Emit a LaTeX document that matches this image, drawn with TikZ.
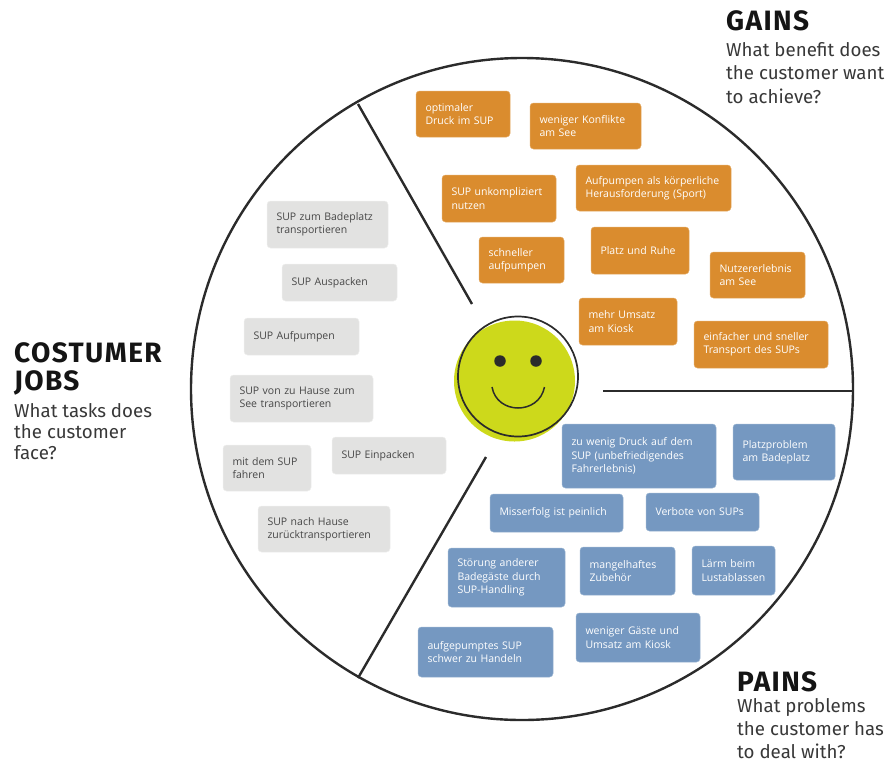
\documentclass[tikz,border=0pt]{standalone}
\usepackage{fontspec}
\setmainfont{Open Sans}
\newfontfamily\headfont{Fira Sans}
\newfontfamily\headboldfont[BoldFont={Fira Sans Bold},LetterSpace=5]{Fira Sans}
\definecolor{gainc}{HTML}{DA8C2E}
\definecolor{painc}{HTML}{7598C1}
\definecolor{jobc}{HTML}{E2E2E1}
\definecolor{smilec}{HTML}{CDD91B}
\definecolor{inkc}{HTML}{2B2B2B}
\tikzset{
  card/.style={rounded corners=3.5pt,inner xsep=0pt,inner ysep=0pt,align=left,font=\fontsize{10.5}{13.4}\selectfont},
  gaincard/.style={card,fill=gainc,draw=gainc!75!white,line width=.5pt,text=white},
  paincard/.style={card,fill=painc,draw=painc!75!white,line width=.5pt,text=white},
  jobcard/.style={card,fill=jobc,draw=jobc!60!white,line width=.5pt,text=black!72},
  divider/.style={draw=inkc,line width=2.4pt},
  headline/.style={anchor=west,inner sep=0pt,align=left,text=black!92,font=\headboldfont\bfseries\fontsize{28}{27.5}\selectfont},
  subline/.style={anchor=north west,inner sep=0pt,align=left,text=black!78,font=\headfont\fontsize{18.7}{23.6}\selectfont},
  subpains/.style={subline,font=\headfont\fontsize{18.7}{23}\selectfont},
  subtight/.style={subline,font=\headfont\fontsize{18.7}{21.2}\selectfont}
}
% name, style, x0, y0, x1, y1, text
\newcommand{\cardbox}[7]{%
  \pgfmathsetmacro{\cardw}{#5-#3}\pgfmathsetmacro{\cardh}{#6-#4}%
  \pgfmathsetmacro{\cardcx}{(#3+#5)/2}\pgfmathsetmacro{\cardcy}{(#4+#6)/2}%
  \node[#2,minimum width=\cardw pt,minimum height=\cardh pt,text width=\cardw pt-19pt] (#1) at (\cardcx,\cardcy) {\raisebox{.7pt}{\parbox{\dimexpr\cardw pt-19pt}{#7}}};%
}
\begin{document}
\begin{tikzpicture}[x=1pt,y=-1pt]
\useasboundingbox (0,0) rectangle (888,764);
\node[circle,draw=inkc,line width=2.4pt,minimum size=662pt,inner sep=0pt] (wheel) at (522,389) {};
\coordinate (d1a) at (358,104); \coordinate (d1b) at (472,304);
\coordinate (d2a) at (603,391); \coordinate (d2b) at (853,391);
\coordinate (d3a) at (486,457); \coordinate (d3b) at (358,678);
\draw[divider] (d1a) -- (d1b);
\draw[divider] (d2a) -- (d2b);
\draw[divider] (d3a) -- (d3b);
% smiley
\node[circle,fill=smilec,minimum size=121pt,inner sep=0pt] (face) at (514.5,381) {};
\node[circle,draw=inkc,line width=1.7pt,minimum size=120pt,inner sep=0pt] (ring) at (518,376.5) {};
\node[circle,fill=inkc,minimum size=11.5pt,inner sep=0pt] (eyeL) at (500,361) {};
\node[circle,fill=inkc,minimum size=11.5pt,inner sep=0pt] (eyeR) at (536,361) {};
\coordinate (mouthL) at (492,387); \coordinate (mouthR) at (544.5,387);
\draw[inkc,line width=1.5pt] (mouthL) .. controls (497,415) and (539,415) .. (mouthR);
% gains
\cardbox{g1}{gaincard}{416}{91}{510}{137}{optimaler\\Druck im SUP}
\cardbox{g2}{gaincard}{530}{103}{641}{149}{weniger Konflikte\\am See}
\cardbox{g3}{gaincard}{442}{175}{556}{222}{SUP unkompliziert\\nutzen}
\cardbox{g4}{gaincard}{576}{165}{731}{211}{Aufpumpen als körperliche\\Herausforderung (Sport)}
\cardbox{g5}{gaincard}{479}{237}{564}{283}{schneller\\aufpumpen}
\cardbox{g6}{gaincard}{591}{227}{689}{274}{Platz und Ruhe}
\cardbox{g7}{gaincard}{710}{252}{805}{298}{Nutzererlebnis\\am See}
\cardbox{g8}{gaincard}{579}{298}{677}{345}{mehr Umsatz\\am Kiosk}
\cardbox{g9}{gaincard}{694}{321}{828}{368}{einfacher und sneller\\Transport des SUPs}
% pains
\cardbox{p1}{paincard}{562}{424}{716}{488}{zu wenig Druck auf dem\\SUP (unbefriedigendes\\Fahrerlebnis)}
\cardbox{p2}{paincard}{733}{424}{835}{480}{Platzproblem\\am Badeplatz}
\cardbox{p3}{paincard}{490}{494}{623}{532}{Misserfolg ist peinlich}
\cardbox{p4}{paincard}{646}{493}{759}{531}{Verbote von SUPs}
\cardbox{p5}{paincard}{448}{548}{565}{607}{Störung anderer\\Badegäste durch\\SUP-Handling}
\cardbox{p6}{paincard}{580}{547}{675}{595}{mangelhaftes\\Zubehör}
\cardbox{p7}{paincard}{692}{546}{775}{595}{Lärm beim\\Lustablassen}
\cardbox{p8}{paincard}{418}{627}{553}{677}{aufgepumptes SUP\\schwer zu Handeln}
\cardbox{p9}{paincard}{576}{613}{700}{662}{weniger Gäste und\\Umsatz am Kiosk}
% jobs
\cardbox{j1}{jobcard}{267}{201}{388}{248}{SUP zum Badeplatz\\transportieren}
\cardbox{j2}{jobcard}{282}{264}{397}{301}{SUP Auspacken}
\cardbox{j3}{jobcard}{244}{318}{359}{355}{SUP Aufpumpen}
\cardbox{j4}{jobcard}{230}{375}{373}{422}{SUP von zu Hause zum\\See transportieren}
\cardbox{j5}{jobcard}{223}{445}{311}{491}{mit dem SUP\\fahren}
\cardbox{j6}{jobcard}{332}{437}{446}{474}{SUP Einpacken}
\cardbox{j7}{jobcard}{258}{506}{390}{552}{SUP nach Hause\\zurücktransportieren}
% headings
\node[headline] (gainsH) at (726,21) {GAINS};
\node[subline] (gainsT) at (726,42) {What benefit does\\the customer want\\to achieve?};
\node[headline] (painsH) at (737,682) {PAINS};
\node[subpains] (painsT) at (737,698.5) {What problems\\the customer has\\to deal with?};
\node[headline] (jobsH) at (14,369) {COSTUMER\\JOBS};
\node[subtight] (jobsT) at (14,403) {What tasks does\\the customer\\face?};
\end{tikzpicture}
\end{document}
